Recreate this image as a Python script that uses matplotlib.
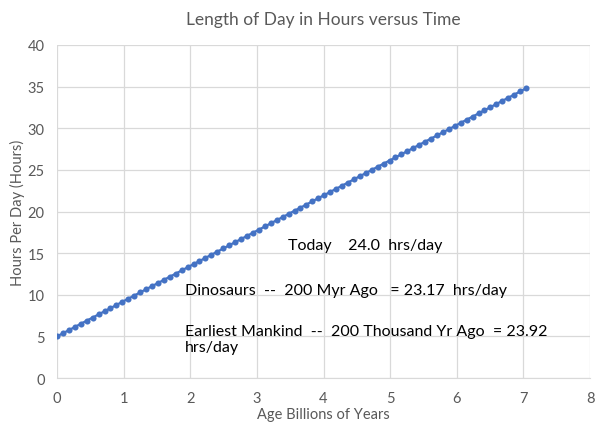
import matplotlib
matplotlib.use("Agg")
import matplotlib.pyplot as plt

age_gyr = [0.000, 0.089, 0.178, 0.267, 0.356, 0.446, 0.535, 0.624, 0.713, 0.802,
           0.891, 0.980, 1.069, 1.158, 1.247, 1.337, 1.426, 1.515, 1.604, 1.693,
           1.782, 1.871, 1.960, 2.049, 2.138, 2.228, 2.317, 2.406, 2.495, 2.584,
           2.673, 2.762, 2.851, 2.940, 3.029, 3.119, 3.208, 3.297, 3.386, 3.475,
           3.564, 3.653, 3.742, 3.831, 3.920, 4.010, 4.099, 4.188, 4.277, 4.366,
           4.455, 4.544, 4.633, 4.722, 4.811, 4.901, 4.990, 5.079, 5.168, 5.257,
           5.346, 5.435, 5.524, 5.613, 5.702, 5.792, 5.881, 5.970, 6.059, 6.148,
           6.237, 6.326, 6.415, 6.504, 6.593, 6.683, 6.772, 6.861, 6.950, 7.040]
hours_per_day = [5.00, 5.38, 5.75, 6.13, 6.51, 6.89, 7.26, 7.64, 8.02, 8.39,
                 8.77, 9.15, 9.53, 9.90, 10.28, 10.66, 11.04, 11.41, 11.79, 12.17,
                 12.54, 12.92, 13.30, 13.68, 14.05, 14.43, 14.81, 15.18, 15.56, 15.94,
                 16.32, 16.69, 17.07, 17.45, 17.82, 18.20, 18.58, 18.96, 19.33, 19.71,
                 20.09, 20.46, 20.84, 21.22, 21.60, 21.97, 22.35, 22.73, 23.10, 23.48,
                 23.86, 24.24, 24.61, 24.99, 25.37, 25.75, 26.12, 26.50, 26.88, 27.25,
                 27.63, 28.01, 28.39, 28.76, 29.14, 29.52, 29.89, 30.27, 30.65, 31.03,
                 31.40, 31.78, 32.16, 32.53, 32.91, 33.29, 33.67, 34.04, 34.42, 34.80]

x_ticks = [0, 1, 2, 3, 4, 5, 6, 7, 8]
y_ticks = [0, 5, 10, 15, 20, 25, 30, 35, 40]

title = "Length of Day in Hours versus Time"
x_label = "Age Billions of Years"
y_label = "Hours Per Day (Hours)"
notes = ["Today    24.0  hrs/day",
         "Dinosaurs  --  200 Myr Ago   = 23.17  hrs/day",
         "Earliest Mankind  --  200 Thousand Yr Ago  = 23.92\nhrs/day"]

plt.rcParams['font.family'] = ['Lato', 'DejaVu Sans']
gray = '#595959'

fig = plt.figure(figsize=(5.95, 4.31), dpi=100)
ax = fig.add_axes([0.0958, 0.1206, 0.896, 0.7727])

ax.plot(age_gyr, hours_per_day, color='#4472C4', lw=1.6, marker='o', ms=4.4,
        markerfacecolor='#4472C4', markeredgewidth=0)

ax.set_xlim(0, 8)
ax.set_ylim(0, 40)
ax.set_xticks(x_ticks)
ax.set_yticks(y_ticks)
ax.grid(True, color='#d9d9d9', lw=0.9)
ax.set_axisbelow(True)
for s in ['top', 'right', 'left']:
    ax.spines[s].set_visible(False)
ax.spines['bottom'].set_color('#d9d9d9')
ax.tick_params(length=0, colors=gray, labelsize=10.5, pad=9)

ax.set_title(title, color=gray, fontsize=12.5, pad=15)
ax.set_xlabel(x_label, color=gray, fontsize=10.5, labelpad=2)
ax.set_ylabel(y_label, color=gray, fontsize=10.5, labelpad=2)

ax.text(3.47, 16.0, notes[0], fontsize=11.5, va='center', ha='left', color='black')
ax.text(1.92, 10.6, notes[1], fontsize=11.5, va='center', ha='left', color='black')
ax.text(1.92, 4.7, notes[2], fontsize=11.5, va='center', ha='left', color='black',
        linespacing=1.25)

fig.savefig("out.png", dpi=100)
